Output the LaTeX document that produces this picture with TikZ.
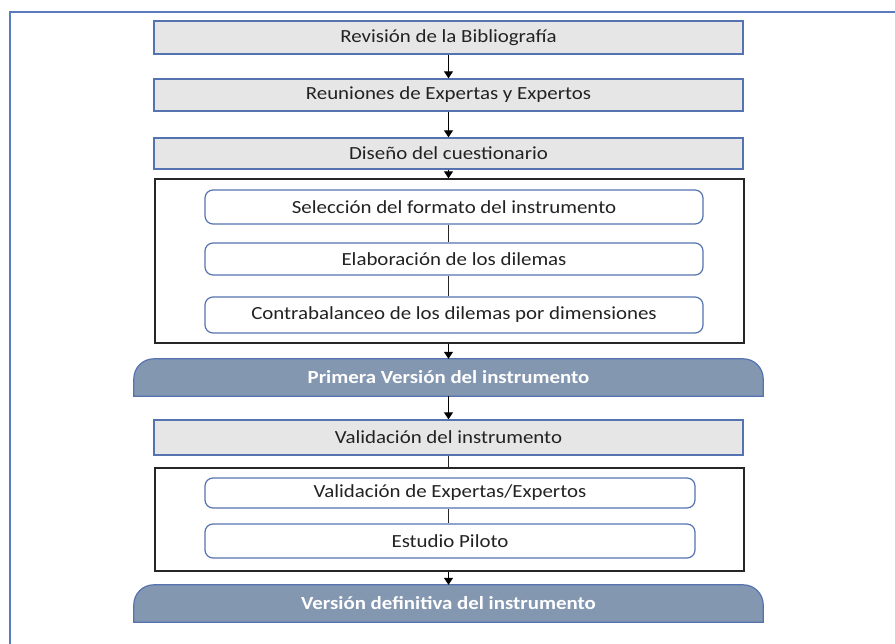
\documentclass[tikz,border=0pt]{standalone}
\usepackage{fontspec}
\setmainfont{Carlito}[FakeStretch=1.13]
\usetikzlibrary{arrows.meta}
\definecolor{boxgray}{HTML}{E6E6E6}
\definecolor{boxblue}{HTML}{5473B0}
\definecolor{framblue}{HTML}{5B7BBF}
\definecolor{slate}{HTML}{8497B0}
\definecolor{txt}{HTML}{222222}
\tikzset{
  graybox/.style={draw=boxblue, fill=boxgray, line width=1.4pt, minimum width=589pt, inner sep=0pt, text=txt, font=\fontsize{18.5}{20}\selectfont},
  groupbox/.style={draw=black!85, line width=1.3pt, minimum width=589pt, inner sep=0pt},
  roundbox/.style={draw=boxblue, fill=white, line width=1.2pt, rounded corners=8pt, inner sep=0pt, text=txt, font=\fontsize{18.5}{20}\selectfont},
  titlebox/.style={inner sep=0pt, minimum width=629pt, minimum height=37pt, text=white, font=\fontsize{18.5}{20}\selectfont\bfseries},
  titleshape/.style={draw=boxblue, fill=slate, line width=1.2pt},
  arr/.style={line width=1.3pt, -{Triangle[width=9pt,length=7pt]}},
  ln/.style={line width=1.2pt, draw=black!85},
}
\begin{document}
\begin{tikzpicture}[x=1pt,y=-1pt]
\useasboundingbox (0,0) rectangle (895,644);
\draw[framblue, line width=1.5pt] (10,660) -- (10,12) -- (910,12);

\node[graybox, minimum height=33pt] (b1) at (448.5,37.5) {Revisión de la Bibliografía};
\node[graybox, minimum height=32pt] (b2) at (448.5,95) {Reuniones de Expertas y Expertos};
\node[graybox, minimum height=31pt] (b3) at (448.5,153.5) {Diseño del cuestionario};

\node[groupbox, minimum height=164pt] (g1) at (449.5,261) {};
\node[roundbox, minimum width=498pt, minimum height=34pt] (s1) at (454,207) {Selección del formato del instrumento};
\node[roundbox, minimum width=498pt, minimum height=32pt] (s2) at (454,259) {Elaboración de los dilemas};
\node[roundbox, minimum width=498pt, minimum height=36pt] (s3) at (454,315) {Contrabalanceo de los dilemas por dimensiones};

\node[titlebox] (p1) at (448.5,377.5) {};
\draw[titleshape] (p1.south west) -- ([yshift=-20pt]p1.north west) arc(180:270:20) -- ([xshift=-20pt]p1.north east) arc(270:360:20) -- (p1.south east) -- cycle;
\node[titlebox] at (p1) {Primera Versión del instrumento};

\node[graybox, minimum height=35pt] (v) at (448.5,437.5) {Validación del instrumento};

\node[groupbox, minimum height=103pt] (g2) at (449.5,519.5) {};
\node[roundbox, minimum width=490pt, minimum height=30pt] (e1) at (450,493) {Validación de Expertas/Expertos};
\node[roundbox, minimum width=490pt, minimum height=34pt] (e2) at (450,541) {Estudio Piloto};

\node[titlebox] (p2) at (448.5,603.5) {};
\draw[titleshape] (p2.south west) -- ([yshift=-20pt]p2.north west) arc(180:270:20) -- ([xshift=-20pt]p2.north east) arc(270:360:20) -- (p2.south east) -- cycle;
\node[titlebox] at (p2) {Versión definitiva del instrumento};

\draw[arr] (b1.south) -- (b2.north);
\draw[arr] (b2.south) -- (b3.north);
\draw[arr] (b3.south) -- (g1.north -| b3.south);
\draw[ln] (s1.south -| b1.south) -- (s2.north -| b1.south);
\draw[ln] (s2.south -| b1.south) -- (s3.north -| b1.south);
\draw[arr] (g1.south -| p1.north) -- (p1.north);
\draw[arr] (p1.south) -- (v.north);
\draw[ln] (v.south) -- (g2.north -| v.south);
\draw[ln] (e1.south -| v.south) -- (e2.north -| v.south);
\draw[arr] (g2.south -| p2.north) -- (p2.north);
\end{tikzpicture}
\end{document}
